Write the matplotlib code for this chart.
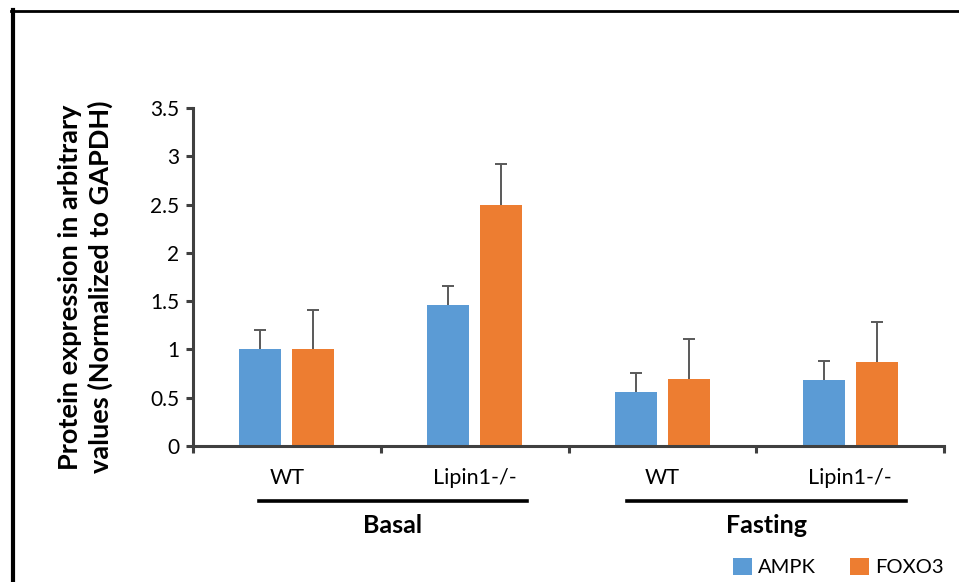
#!/usr/bin/env python3
"""Protein expression (AMPK / FOXO3) bar chart, basal vs fasting."""

import matplotlib

matplotlib.use("Agg")

import matplotlib.pyplot as plt
from matplotlib.lines import Line2D
import numpy as np

plt.rcParams["font.family"] = ["Lato", "DejaVu Sans"]

CATEGORIES = ["WT", "Lipin1-/-", "WT", "Lipin1-/-"]
GROUPS = ["Basal", "Fasting"]
AMPK = [1.0, 1.46, 0.56, 0.68]
AMPK_ERR = [0.20, 0.20, 0.20, 0.20]
FOXO3 = [1.0, 2.50, 0.69, 0.87]
FOXO3_ERR = [0.41, 0.42, 0.42, 0.41]
Y_TICKS = [0, 0.5, 1, 1.5, 2, 2.5, 3, 3.5]

BLUE = "#5b9bd5"
ORANGE = "#ed7d31"
AXIS_GREY = "#404040"
ERR_GREY = "#595959"


def draw_errors(ax, xs, values, errs):
    # upper error bars only, no cap at the bar top
    tops = np.array(values) + np.array(errs)
    ax.vlines(xs, values, tops, color=ERR_GREY, linewidth=1.4)
    ax.hlines(tops, xs - 0.032, xs + 0.032, color=ERR_GREY, linewidth=1.4)


def main():
    fig = plt.figure(figsize=(9.59, 5.82), dpi=100)
    ax = fig.add_axes([0.2013, 0.2337, 0.7831, 0.5807])

    x = np.arange(len(CATEGORIES)) + 0.5
    width = 0.224
    off = 0.141
    b1 = ax.bar(x - off, AMPK, width, color=BLUE, label="AMPK")
    b2 = ax.bar(x + off, FOXO3, width, color=ORANGE, label="FOXO3")
    draw_errors(ax, x - off, AMPK, AMPK_ERR)
    draw_errors(ax, x + off, FOXO3, FOXO3_ERR)

    ax.set_xlim(0, len(CATEGORIES))
    ax.set_ylim(0, 3.5)
    ax.set_yticks(Y_TICKS)
    ax.set_yticklabels([f"{t:g}" for t in Y_TICKS], fontsize=15)
    ax.set_xticks(np.arange(len(CATEGORIES) + 1))
    ax.set_xticklabels([])

    for side in ("top", "right"):
        ax.spines[side].set_visible(False)
    for side in ("left", "bottom"):
        ax.spines[side].set_color(AXIS_GREY)
        ax.spines[side].set_linewidth(2.2)
    ax.tick_params(axis="both", direction="out", length=5, width=2.2,
                   color=AXIS_GREY, pad=5)

    trans = ax.get_xaxis_transform()
    for xi, label in zip(x, CATEGORIES):
        ax.text(xi, -0.095, label, transform=trans, ha="center", va="center",
                fontsize=15.5)

    spans = [(0.35, 1.78), (2.31, 3.80)]
    for (x0, x1), name in zip(spans, GROUPS):
        ax.add_line(Line2D([x0, x1], [-0.163, -0.163], transform=trans,
                           color="black", linewidth=2.6, clip_on=False))
        ax.text((x0 + x1) / 2, -0.236, name, transform=trans, ha="center",
                va="center", fontsize=18, fontweight="bold")

    ax.set_ylabel("Protein expression in arbitrary\nvalues (Normalized to GAPDH)",
                  fontsize=19.5, fontweight="bold", linespacing=1.25,
                  labelpad=27, y=0.47)

    fig.legend(handles=[b1, b2], loc="center", bbox_to_anchor=(0.874, 0.026),
               ncol=2, frameon=False, fontsize=14.5, handlelength=0.95,
               handleheight=0.95, handletextpad=0.3, columnspacing=1.7)

    # frame left/top of the original screenshot
    fig.add_artist(Line2D([13 / 959, 13 / 959], [0, 1 - 10 / 582],
                          transform=fig.transFigure, color="black", linewidth=3))
    fig.add_artist(Line2D([11 / 959, 1], [1 - 11 / 582, 1 - 11 / 582],
                          transform=fig.transFigure, color="black", linewidth=2))

    fig.savefig("out.png", dpi=100)
    plt.close(fig)


if __name__ == "__main__":
    main()
